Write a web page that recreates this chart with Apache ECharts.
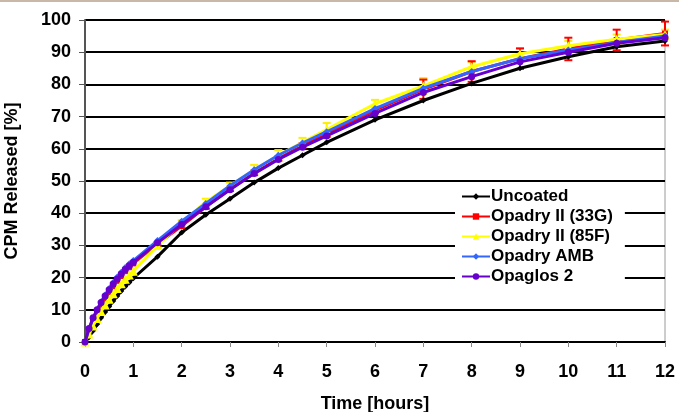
<!DOCTYPE html>
<html><head><meta charset="utf-8">
<script src="https://cdn.jsdelivr.net/npm/echarts@6/dist/echarts.min.js"></script>
<style>html,body{margin:0;padding:0;background:#fff}#c{width:679px;height:412px}</style>
</head><body><div id="c"></div>
<script>
const time = [0, 0.083, 0.167, 0.25, 0.333, 0.417, 0.5, 0.583, 0.667, 0.75, 0.833, 0.917, 1, 1.5, 2, 2.5, 3, 3.5, 4, 4.5, 5, 6, 7, 8, 9, 10, 11, 12];
const uncoated = [0, 1.5, 3.5, 5.5, 7.5, 9.3, 11, 12.7, 14.3, 15.8, 17.2, 18.5, 19.8, 26.5, 34, 39.5, 44.5, 49.5, 54, 58, 62, 69, 75, 80.3, 85, 88.6, 91.7, 93.5];
const opadry33G = [0, 3.5, 6.5, 9, 11.3, 13.5, 15.5, 17.3, 19, 20.5, 22, 23.2, 24.4, 30.5, 36, 42, 47.5, 52.5, 57, 61, 64.5, 72, 78.5, 84, 88, 91, 93.8, 95.8];
const opadry85F = [0, 2.5, 5, 7.3, 9.5, 11.5, 13.3, 15, 16.6, 18.1, 19.5, 20.8, 22, 30, 37, 43.5, 48.5, 53.5, 58, 62, 66, 74, 79.5, 85.5, 89.5, 92, 94, 95.5];
const opadryAMB = [0, 4, 7.3, 10, 12.5, 14.6, 16.6, 18.5, 20.2, 21.7, 23.1, 24.3, 25.3, 31.5, 37.5, 43, 48.5, 53.5, 58, 61.8, 65.3, 72.5, 78.8, 84, 88, 90.7, 93, 95];
const opaglos2 = [0, 4.2, 7.5, 10, 12.3, 14.3, 16.2, 18, 19.6, 21.1, 22.5, 23.7, 24.8, 30.8, 36.5, 42, 47.3, 52.3, 56.7, 60.5, 64, 71, 77.5, 82.4, 87, 90, 92.8, 94.5];
const err33G = [0,0,0,0,0,0,0,0,0,0,0,0,0, 0.5, 0.5, 0.6, 0.6, 0.7, 0.7, 0.7, 0.8, 1, 3, 3.2, 3.2, 3.5, 3.2, 3.7];
const err85F = [0,0,0,0,0,0,0,0,0,0,0,0,0, 0.6, 0.8, 1, 1, 1.5, 1.6, 1.4, 2, 1.2, 2.5, 1.5, 1.5, 1.5, 1.5, 1.5];
const seriesNames = ['Uncoated', 'Opadry II (33G)', 'Opadry II (85F)', 'Opadry AMB', 'Opaglos 2'];
const xTicks = [0,1,2,3,4,5,6,7,8,9,10,11,12];

const F = '"Liberation Sans", Arial, sans-serif';
const chart = echarts.init(document.getElementById('c'));
function pairs(v){ return time.map((t,i)=>[t, v[i]]); }
function errSeries(vals, errs, color){
  const d = time.map((t,i)=>[t, vals[i], errs[i]]).filter(p=>p[2]>0);
  return {
    type:'custom', silent:true, z:2, legendHoverLink:false,
    renderItem:(params, api)=>{
      const x = api.value(0), y = api.value(1), e = api.value(2);
      const hi = api.coord([x, y+e]), lo = api.coord([x, y-e]);
      const w = 4;
      return {type:'group', children:[
        {type:'line', shape:{x1:hi[0],y1:hi[1],x2:lo[0],y2:lo[1]}, style:{stroke:color, lineWidth:2}},
        {type:'line', shape:{x1:hi[0]-w,y1:hi[1],x2:hi[0]+w,y2:hi[1]}, style:{stroke:color, lineWidth:2}},
        {type:'line', shape:{x1:lo[0]-w,y1:lo[1],x2:lo[0]+w,y2:lo[1]}, style:{stroke:color, lineWidth:2}}
      ]};
    },
    data:d
  };
}
const colors = ['#000000','#ff0000','#ffff00','#3366ff','#6600cc'];
const symbols = ['diamond','rect','triangle','diamond','circle'];
const sizes = [6,6,9,7,7];
const vals = [uncoated, opadry33G, opadry85F, opadryAMB, opaglos2];
const lineSeries = seriesNames.map((n,i)=>({
  name:n, type:'line', data:pairs(vals[i]), color:colors[i],
  symbol:symbols[i], symbolSize:sizes[i], showSymbol:true,
  lineStyle:{width:3, color:colors[i]}, itemStyle:{color:colors[i]}, z:3+i*0.1
}));
chart.setOption({
  animation:false,
  backgroundColor:'#fff',
  textStyle:{fontFamily:F},
  grid:{left:85, right:14, top:20, bottom:70, containLabel:false, outerBoundsMode:'none',
    show:true, borderColor:'#9a9a9a', borderWidth:1},
  legend:{
    data:seriesNames, orient:'vertical', left:455, top:182,
    backgroundColor:'#fff', padding:[6,12,6,6], itemGap:3,
    itemWidth:28, itemHeight:8, z:10,
    textStyle:{fontFamily:F, fontSize:17, fontWeight:'bold', color:'#000', padding:[0,0,0,-4]}
  },
  xAxis:{
    type:'value', min:0, max:12, interval:1,
    name:'Time [hours]', nameLocation:'middle', nameGap:53,
    nameTextStyle:{fontFamily:F, fontSize:18, fontWeight:'bold', color:'#000'},
    axisLine:{show:true, lineStyle:{color:'#000', width:2}},
    axisTick:{show:true, length:5, lineStyle:{color:'#888'}},
    axisLabel:{fontFamily:F, fontSize:18, fontWeight:'bold', color:'#000', margin:21,
      formatter:v=>xTicks.indexOf(v)>=0?String(v):''},
    splitLine:{show:false}
  },
  yAxis:{
    type:'value', min:0, max:100, interval:10,
    name:'CPM Released [%]', nameLocation:'middle', nameGap:64, nameRotate:90,
    nameTextStyle:{fontFamily:F, fontSize:18, fontWeight:'bold', color:'#000'},
    axisLine:{show:true, lineStyle:{color:'#555', width:2}},
    axisTick:{show:true, length:6, lineStyle:{color:'#555'}},
    axisLabel:{fontFamily:F, fontSize:18, fontWeight:'bold', color:'#000', margin:14},
    splitLine:{show:true, lineStyle:{color:'#000', width:2}}
  },
  graphic:[{type:'rect', shape:{x:0,y:0,width:679,height:2}, style:{fill:'#c8b8a8'}}],
  series:[...lineSeries, errSeries(opadry85F, err85F, '#ffee00'), errSeries(opadry33G, err33G, '#ff0000')]
});
</script></body></html>
